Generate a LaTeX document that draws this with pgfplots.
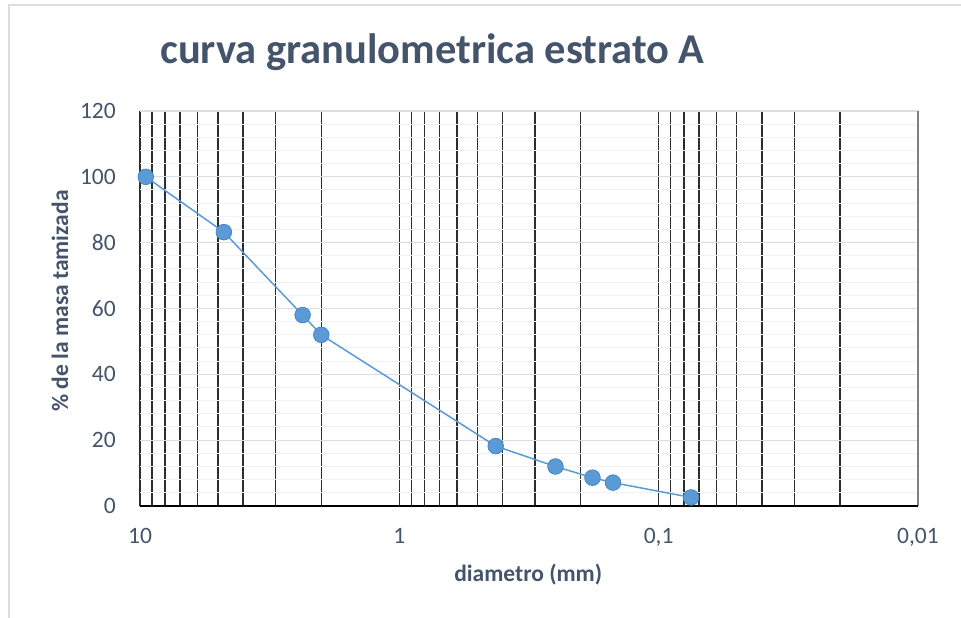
\documentclass[border=0pt]{standalone}
\usepackage{pgfplots}
\pgfplotsset{compat=1.18}
\usepackage{fontspec}
\setmainfont{Carlito}
\definecolor{txt}{RGB}{68,84,106}
\definecolor{serie}{RGB}{91,155,213}
\definecolor{serieedge}{RGB}{72,132,198}
\definecolor{vgrid}{RGB}{45,45,45}
\definecolor{edge}{RGB}{128,128,128}
\definecolor{hmajor}{RGB}{217,222,228}
\definecolor{hminor}{RGB}{240,242,244}
\definecolor{frame}{RGB}{217,222,228}

% sieve opening (mm) vs. percentage passing
\pgfplotstableread{
d      pasa
9.5    100
4.75   83.2
2.36   58.0
2.0    52.0
0.425  18.2
0.25   12.0
0.18   8.6
0.15   7.1
0.075  2.6
}\granulometria

\begin{document}
\begin{tikzpicture}
\path[use as bounding box] (0pt,0pt) rectangle (961pt,618pt);
\draw[frame, line width=1.2pt] (9pt,0pt) -- (9pt,613pt) -- (961pt,613pt);
\begin{axis}[
  at={(140pt,112pt)}, anchor=south west,
  scale only axis, width=778pt, height=395pt,
  xmode=log, x dir=reverse,
  xmin=0.01, xmax=10, ymin=0, ymax=120,
  xtick={0.01,0.1,1,10},
  xticklabels={{0,01},{0,1},1,10},
  ytick={0,20,...,120},
  minor y tick num=4,
  major tick length=0pt, minor tick length=0pt,
  xmajorgrids, xminorgrids, ymajorgrids, yminorgrids,
  major x grid style={vgrid, line width=1.4pt},
  minor x grid style={vgrid, line width=1.4pt},
  major y grid style={hmajor, line width=1.2pt},
  minor y grid style={hminor, line width=1pt},
  axis line style={draw=none},
  /pgf/number format/assume math mode=true,
  tick label style={font=\fontsize{23.5}{28}\selectfont, text=txt, inner sep=0pt},
  yticklabel style={anchor=east, xshift=-24pt},
  xticklabel style={anchor=north, yshift=-22pt},
  label style={font=\fontsize{23.5}{28}\selectfont\bfseries, text=txt},
  xlabel={diametro (mm)},
  ylabel={\% de la masa tamizada},
  xlabel style={at={(axis description cs:0.499,-0.192)}, anchor=base, inner sep=0pt},
  ylabel style={at={(axis description cs:-0.103,0.519)}, anchor=center, rotate=0, inner sep=0pt},
  title={curva granulometrica estrato A},
  title style={at={(axis description cs:0.376,1.104)}, anchor=base, inner sep=0pt,
    font=\fontsize{42.5}{51}\selectfont\bfseries, text=txt},
  clip=false,
]
% right edge in grey, bottom axis line in black
\draw[edge, line width=1.8pt] (rel axis cs:1,0) -- (rel axis cs:1,1);
\draw[black, line width=1.5pt] (rel axis cs:0,0) -- (rel axis cs:1,0);
\addplot[serie, line width=1.5pt, mark=*, mark size=7.8pt,
  mark options={fill=serie, draw=serieedge, line width=0.8pt}]
  table[x=d, y=pasa] {\granulometria};
\end{axis}
\end{tikzpicture}
\end{document}
